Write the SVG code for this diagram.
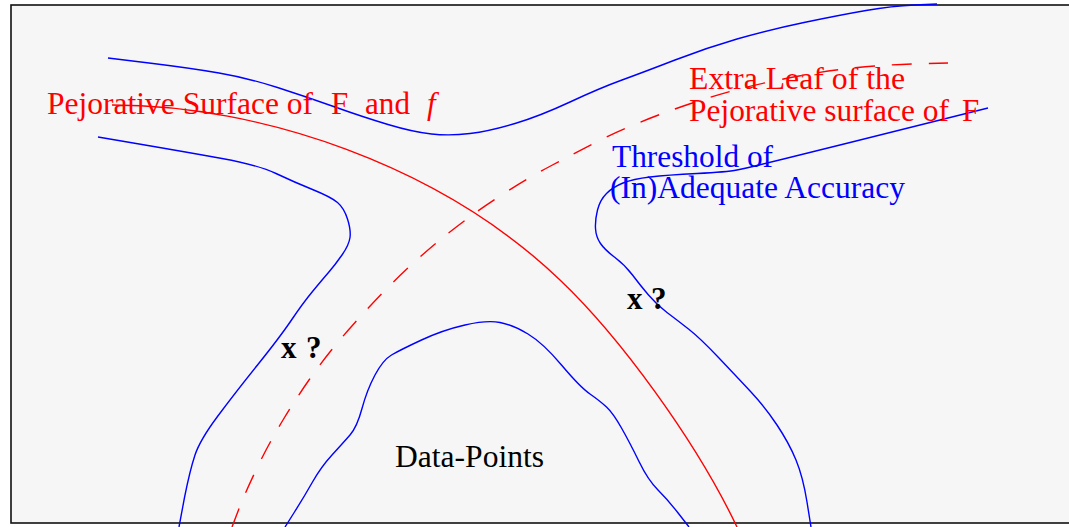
<svg xmlns="http://www.w3.org/2000/svg" width="1069" height="527" viewBox="0 0 1069 527">
<style>
.c{fill:none;stroke-width:1.4;stroke-linejoin:round;stroke-linecap:butt}
.b{stroke:#0000ff}
.r{stroke:#ff0000}
.d{stroke-dasharray:20 17}
text{font-family:"Liberation Serif","Times New Roman",serif;font-size:31px}
.tr{fill:#ff0000}
.tb{fill:#0000ff}
.tk{fill:#000000}
.bold{font-weight:bold}
</style>
<rect x="0" y="0" width="1069" height="527" fill="#ffffff"/>
<rect id="frame" x="11" y="5" width="1070" height="518" fill="#f6f6f6" stroke="#111111" stroke-width="1.6"/>
<g id="curves">
<path id="threshold-upper" class="c b" d="M108,58 L149,63 Q190,68 219,73 Q248,78 277.5,87.5 Q307,97 335,107 Q363,117 388,124.5 Q413,132 431.5,134 Q450,136 470,133.5 Q490,131 515,123.5 Q540,116 570,102 Q600,88 622,80 Q644,72 675,60 Q706,48 737,39 Q768,30 804,22.5 Q840,15 866,10.5 Q892,6 914.5,5 L937,4"/>
<path id="threshold-left" class="c b" d="M98,137 L142,144.5 Q186,152 222,158.5 Q258,165 276,173.5 Q294,182 312.5,189.5 Q331,197 337.5,202.5 Q344,208 347.5,219 Q351,230 350,237.5 Q349,245 342,255 Q335,265 328.5,272.5 Q322,280 312.5,291.5 Q303,303 291.5,320 Q280,337 257.5,365 Q235,393 217.5,416.5 Q200,440 195,455 Q190,470 184.5,497.5 L179,527"/>
<path id="threshold-right" class="c b" d="M988,108 L944,119 Q900,130 850,142.5 Q800,155 783.5,159 Q767,163 757,165.5 Q747,168 737,170 Q727,172 697,173.5 Q667,175 650,177 Q633,179 623,183 Q613,187 606.5,193.5 Q600,200 597.5,210 Q595,220 595.5,228.5 Q596,237 600.5,243.5 Q605,250 615,257.5 Q625,265 632.5,275 Q640,285 648.5,295 Q657,305 667,312.5 Q677,320 688.5,329 Q700,338 718.5,357.5 Q737,377 751,392 Q765,407 777,425 Q789,443 796,460 Q803,477 807,502 L811,527"/>
<path id="data-points-boundary" class="c b" d="M285,527 L294.5,512 Q304,497 312.5,482 Q321,467 332,455 Q343,443 350,435 Q357,427 362,408.5 Q367,390 375,375 Q383,360 391.5,355 Q400,350 421.5,340 Q443,330 465,325 Q487,320 500,322.5 Q513,325 528,334 Q543,343 561.5,365 Q580,387 590,394 Q600,401 606.5,407 Q613,413 621.5,428 Q630,443 639,461.5 Q648,480 658,490 Q668,500 678.5,513.5 L689,527"/>
<path id="pejorative-surface" class="c r" d="M112,105 C260,105 440,165 560,280 C620,337 696,441 737,527"/>
<path id="extra-leaf" class="c r d" d="M232,527 L238.5,510 Q245,493 257,468 Q269,443 283,420 Q297,397 309,380 Q321,363 331.5,350 Q342,337 355.5,322 Q369,307 381,294.5 Q393,282 408.5,267.5 Q424,253 438,241.5 Q452,230 467.5,218.5 Q483,207 505.5,192.5 Q528,178 551.5,165.5 Q575,153 592.5,144 Q610,135 627.5,127.5 Q645,120 662.5,113.5 Q680,107 698.5,101 Q717,95 733.5,90.5 Q750,86 771.5,81.5 Q793,77 813,73.5 Q833,70 853,68 Q873,66 890,65 Q907,64 927.5,63.5 L948,63"/>
</g>
<g id="label-pejorative">
<text class="tr" x="47" y="114" textLength="266" lengthAdjust="spacingAndGlyphs">Pejorative Surface of</text>
<text class="tr" x="331" y="114">F</text>
<text class="tr" x="365" y="114" textLength="45" lengthAdjust="spacingAndGlyphs">and</text>
<text class="tr" x="427" y="114" font-style="italic">f</text>
</g>
<g id="label-extra-leaf">
<text class="tr" x="689" y="89" textLength="216" lengthAdjust="spacingAndGlyphs">Extra Leaf of the</text>
<text class="tr" x="689" y="121" textLength="260" lengthAdjust="spacingAndGlyphs">Pejorative surface of</text>
<text class="tr" x="962" y="121">F</text>
</g>
<g id="label-threshold">
<text class="tb" x="612" y="167" textLength="161" lengthAdjust="spacingAndGlyphs">Threshold of</text>
<text class="tb" x="610" y="198" textLength="295" lengthAdjust="spacingAndGlyphs">(In)Adequate Accuracy</text>
</g>
<g id="label-data-points">
<text class="tk" x="395" y="467" textLength="149" lengthAdjust="spacingAndGlyphs">Data-Points</text>
</g>
<g id="mark-left">
<text class="tk bold" x="281" y="358">x</text>
<text class="tk bold" x="306" y="358">?</text>
</g>
<g id="mark-right">
<text class="tk bold" x="627" y="309">x</text>
<text class="tk bold" x="651" y="309">?</text>
</g>
</svg>
